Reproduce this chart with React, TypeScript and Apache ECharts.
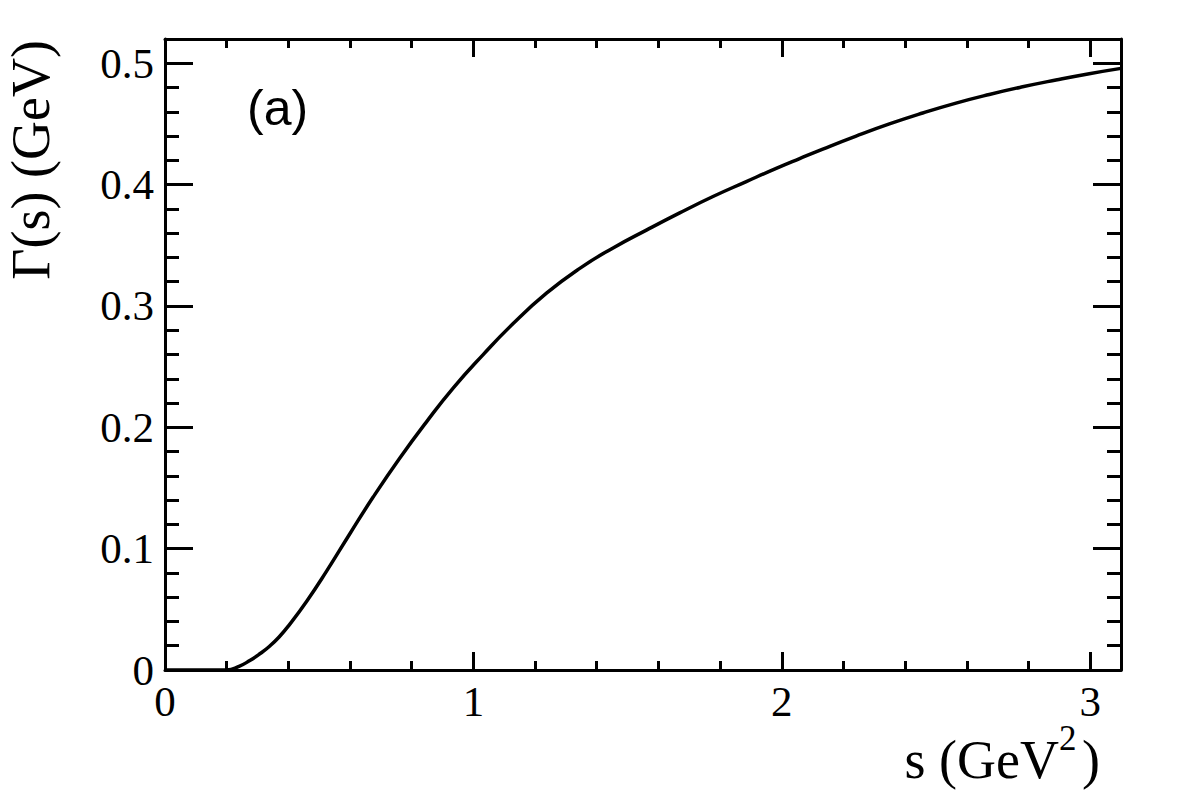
import React, { useEffect, useRef } from "react";
import * as echarts from "echarts";

// s (GeV^2) and Γ(s) (GeV)
const sValues = [0, 0.1, 0.2, 0.24, 0.275, 0.31, 0.34, 0.37, 0.4, 0.459, 0.524, 0.6, 0.675, 0.761, 0.848, 0.935, 1.031, 1.129, 1.237, 1.345, 1.453, 1.561, 1.669, 1.777, 1.885, 1.982, 2.058, 2.133, 2.241, 2.349, 2.457, 2.565, 2.673, 2.781, 2.889, 2.997, 3.1];
const gammaValues = [0, 0, 0, 0.003, 0.0078, 0.0138, 0.0198, 0.0272, 0.0362, 0.0565, 0.0815, 0.1125, 0.1425, 0.1745, 0.2045, 0.2325, 0.2597, 0.2855, 0.3105, 0.331, 0.3478, 0.3625, 0.3767, 0.3902, 0.4025, 0.4134, 0.4215, 0.4293, 0.44, 0.45, 0.459, 0.4672, 0.4743, 0.4806, 0.4862, 0.4914, 0.4958];

const xRange = [0, 3.1];
const yRange = [0, 0.52];
const xMajor = 1;
const xMinor = 0.2;
const yMajor = 0.1;
const yMinor = 0.02;

const xTitle = "s (GeV";
const xTitleSup = "2";
const yTitle = "Γ(s) (GeV)";
const panelLabel = "(a)";

const SERIF = "'Liberation Serif', 'Times New Roman', serif";
const SANS = "'Liberation Sans', Arial, sans-serif";

export default function App() {
  const ref = useRef<HTMLDivElement>(null);
  useEffect(() => {
    if (!ref.current) return;
    const chart = echarts.init(ref.current, null, { renderer: "svg" });
    const line = { show: true, onZero: false, lineStyle: { color: "#000", width: 3 } };
    const noLine = { show: false, onZero: false };
    const tick = (len: number) => ({ show: true, inside: true, length: len, lineStyle: { color: "#000", width: 3 } });
    const mkX = (pos: string, interval: number, len: number, withLine: boolean, labels: boolean) => ({
      type: "value",
      position: pos,
      min: xRange[0],
      max: xRange[1],
      interval,
      axisLine: withLine ? line : noLine,
      axisTick: tick(len),
      splitLine: { show: false },
      axisLabel: labels
        ? { show: true, fontSize: 43, fontFamily: SERIF, color: "#000", margin: 10, showMaxLabel: false }
        : { show: false },
    });
    const mkY = (pos: string, interval: number, len: number, withLine: boolean, labels: boolean) => ({
      type: "value",
      position: pos,
      min: yRange[0],
      max: yRange[1],
      interval,
      axisLine: withLine ? line : noLine,
      axisTick: tick(len),
      splitLine: { show: false },
      axisLabel: labels
        ? { show: true, fontSize: 43, fontFamily: SERIF, color: "#000", margin: 11, showMaxLabel: false }
        : { show: false },
    });
    const data = sValues.map((s, i) => [s, gammaValues[i]]);
    chart.setOption({
      animation: false,
      backgroundColor: "#fff",
      grid: { left: 165, right: 61, top: 39, bottom: 130, containLabel: false },
      xAxis: [
        mkX("bottom", xMajor, 18, true, true),
        mkX("bottom", xMinor, 9, false, false),
        mkX("top", xMajor, 18, true, false),
        mkX("top", xMinor, 9, false, false),
      ],
      yAxis: [
        mkY("left", yMajor, 28, true, true),
        mkY("left", yMinor, 14, false, false),
        mkY("right", yMajor, 28, true, false),
        mkY("right", yMinor, 14, false, false),
      ],
      series: [
        {
          type: "line",
          xAxisIndex: 0,
          yAxisIndex: 0,
          data,
          showSymbol: false,
          smooth: 0.5,
          lineStyle: { color: "#000", width: 3.5 },
        },
      ],
      graphic: [
        {
          type: "text",
          x: 247,
          y: 108,
          style: { text: panelLabel, font: `50px ${SANS}`, fill: "#000", align: "left", verticalAlign: "middle" },
        },
        {
          type: "text",
          x: 1059,
          y: 760,
          style: { text: xTitle, font: `54px ${SERIF}`, fill: "#000", align: "right", verticalAlign: "middle" },
        },
        {
          type: "text",
          x: 1059,
          y: 738,
          style: { text: xTitleSup, font: `35px ${SERIF}`, fill: "#000", align: "left", verticalAlign: "middle" },
        },
        {
          type: "text",
          x: 1082,
          y: 760,
          style: { text: ")", font: `54px ${SERIF}`, fill: "#000", align: "left", verticalAlign: "middle" },
        },
        {
          type: "text",
          x: 31,
          y: 40,
          rotation: Math.PI / 2,
          style: { text: yTitle, font: `54px ${SERIF}`, fill: "#000", align: "right", verticalAlign: "middle" },
        },
      ],
    });
    return () => chart.dispose();
  }, []);
  return (
    <div
      ref={ref}
      style={{ position: "absolute", left: 0, top: 0, width: 1182, height: 800, background: "#fff" }}
    />
  );
}
